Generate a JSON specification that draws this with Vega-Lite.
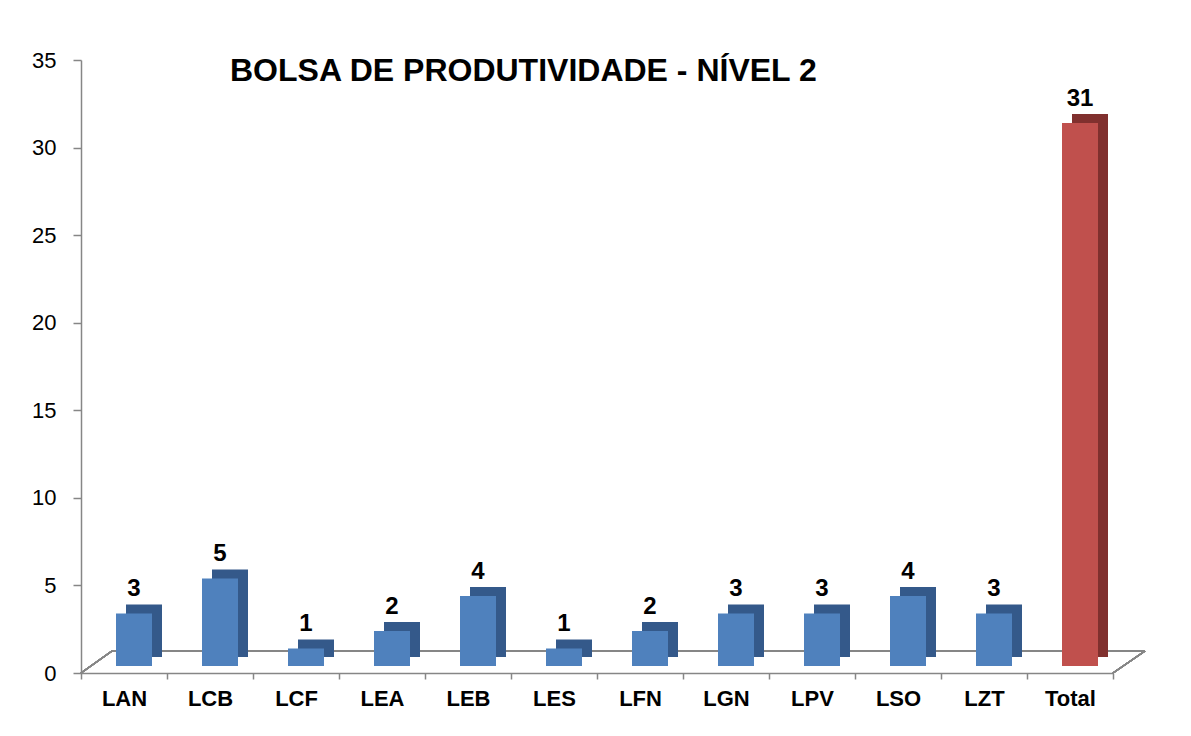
{
  "$schema": "https://vega.github.io/schema/vega-lite/v6.json",
  "autosize": {"type": "none"},
  "width": 1032,
  "height": 613,
  "padding": {"left": 81, "top": 60, "right": 78, "bottom": 63},
  "background": "white",
  "config": {"view": {"stroke": null}, "font": "Liberation Sans"},
  "title": {
    "text": "BOLSA DE PRODUTIVIDADE - NÍVEL 2",
    "anchor": "start",
    "frame": "group",
    "dx": 149,
    "dy": 43,
    "offset": -21,
    "baseline": "alphabetic",
    "font": "Liberation Sans",
    "fontSize": 32,
    "fontWeight": "bold",
    "color": "#000000"
  },
  "data": {
    "values": [
      {"sigla": "LAN", "bolsas": 3},
      {"sigla": "LCB", "bolsas": 5},
      {"sigla": "LCF", "bolsas": 1},
      {"sigla": "LEA", "bolsas": 2},
      {"sigla": "LEB", "bolsas": 4},
      {"sigla": "LES", "bolsas": 1},
      {"sigla": "LFN", "bolsas": 2},
      {"sigla": "LGN", "bolsas": 3},
      {"sigla": "LPV", "bolsas": 3},
      {"sigla": "LSO", "bolsas": 4},
      {"sigla": "LZT", "bolsas": 3},
      {"sigla": "Total", "bolsas": 31}
    ]
  },
  "encoding": {
    "x": {
      "field": "sigla",
      "type": "nominal",
      "sort": null,
      "scale": {
        "domain": ["LAN", "LCB", "LCF", "LEA", "LEB", "LES", "LFN", "LGN", "LPV", "LSO", "LZT", "Total"],
        "paddingInner": 0,
        "paddingOuter": 0
      },
      "axis": {
        "title": null,
        "labelAngle": 0,
        "labelFont": "Liberation Sans",
        "labelFontSize": 22,
        "labelFontWeight": "bold",
        "labelColor": "#000000",
        "labelPadding": 9,
        "tickBand": "extent",
        "tickSize": 6,
        "tickColor": "#868686",
        "domainColor": "#868686",
        "domainWidth": 1.5,
        "tickWidth": 1.5
      }
    }
  },
  "layer": [
    {
      "mark": {"type": "rule", "color": "#868686", "strokeWidth": 1.5, "xOffset": -12, "x2Offset": 74, "yOffset": -22},
      "encoding": {
        "x": {"datum": "LAN"},
        "x2": {"datum": "Total"},
        "y": {"datum": 0, "type": "quantitative", "scale": {"domain": [0, 35]}}
      }
    },
    {
      "mark": {"type": "rule", "color": "#868686", "strokeWidth": 1.5, "xOffset": -43, "x2Offset": -12, "y2Offset": -22},
      "encoding": {
        "x": {"datum": "LAN"},
        "x2": {"datum": "LAN"},
        "y": {"datum": 0, "type": "quantitative"},
        "y2": {"datum": 0}
      }
    },
    {
      "mark": {"type": "rule", "color": "#868686", "strokeWidth": 1.5, "xOffset": 43, "x2Offset": 75, "y2Offset": -22},
      "encoding": {
        "x": {"datum": "Total"},
        "x2": {"datum": "Total"},
        "y": {"datum": 0, "type": "quantitative"},
        "y2": {"datum": 0}
      }
    },
    {
      "mark": {"type": "bar", "width": 36, "xOffset": 20, "yOffset": -16, "y2Offset": -16},
      "encoding": {
        "y": {
          "field": "bolsas",
          "type": "quantitative",
          "scale": {"domain": [0, 35]},
          "axis": {
            "title": null,
            "values": [0, 5, 10, 15, 20, 25, 30, 35],
            "grid": false,
            "labelFont": "Liberation Sans",
            "labelFontSize": 22,
            "labelColor": "#000000",
            "labelPadding": 17,
            "tickSize": 8,
            "tickColor": "#868686",
            "domainColor": "#868686",
            "domainWidth": 1.5,
            "tickWidth": 1.5
          }
        },
        "y2": {"datum": 0},
        "color": {
          "condition": {"test": "datum.sigla === 'Total'", "value": "#80302E"},
          "value": "#34598A"
        }
      }
    },
    {
      "mark": {"type": "bar", "width": 36, "xOffset": 10, "yOffset": -7, "y2Offset": -7},
      "encoding": {
        "y": {"field": "bolsas", "type": "quantitative"},
        "y2": {"datum": 0},
        "color": {
          "condition": {"test": "datum.sigla === 'Total'", "value": "#C0504D"},
          "value": "#4F81BD"
        }
      }
    },
    {
      "mark": {"type": "text", "font": "Liberation Sans", "fontSize": 24, "fontWeight": "bold", "color": "#000000", "baseline": "alphabetic", "dx": 10, "dy": -24},
      "encoding": {
        "y": {"field": "bolsas", "type": "quantitative"},
        "text": {"field": "bolsas", "type": "quantitative"}
      }
    }
  ]
}
